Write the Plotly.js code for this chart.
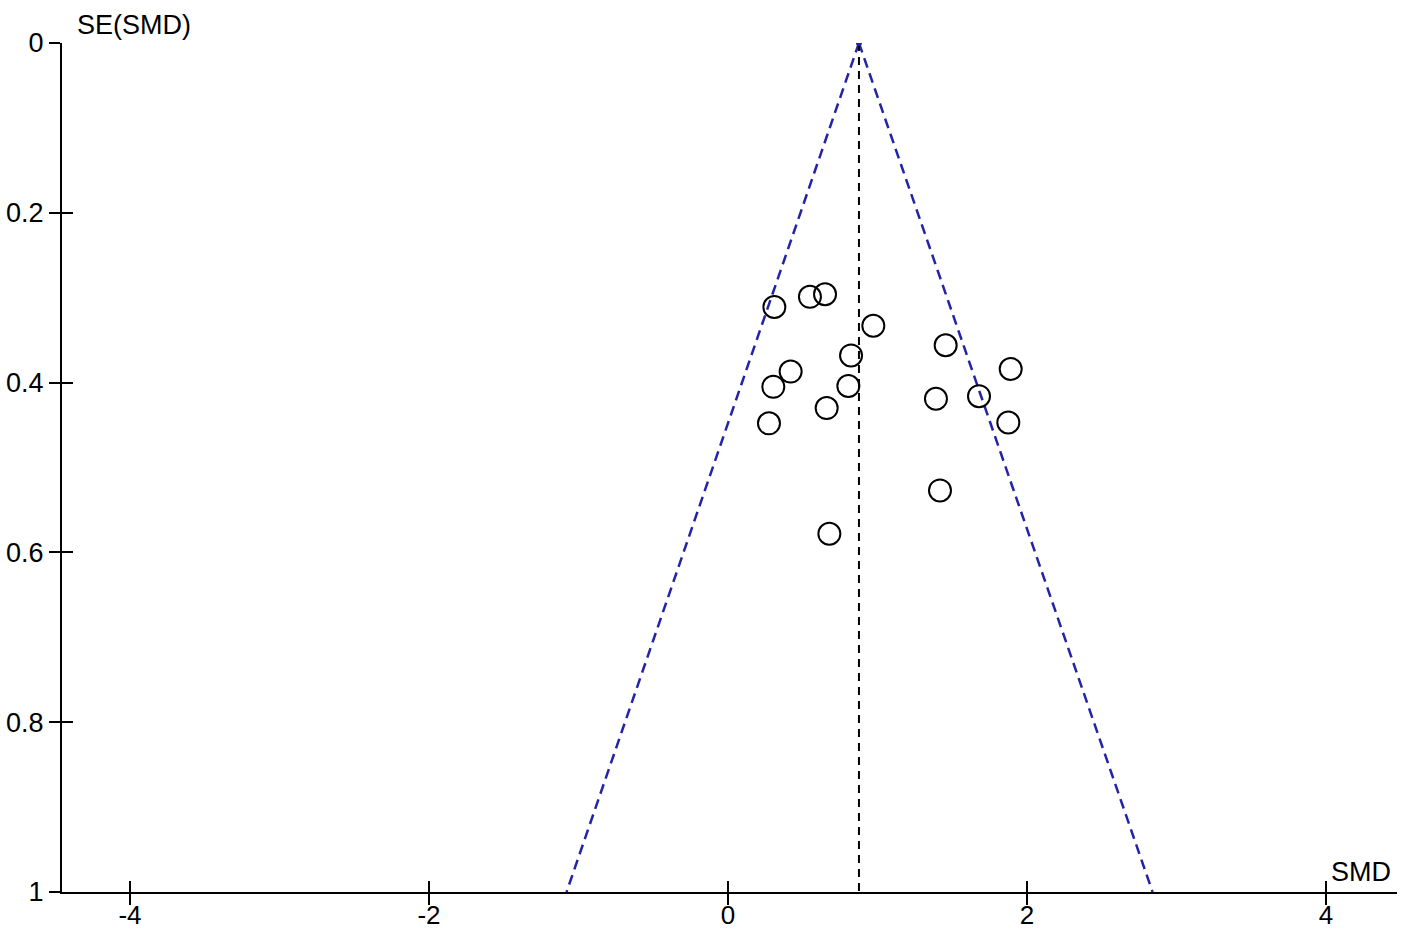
<!DOCTYPE html>
<html>
<head>
<meta charset="utf-8">
<script src="https://cdn.plot.ly/plotly-3.0.1.min.js"></script>
<style>
  html, body { margin: 0; padding: 0; background: #fff; }
  #funnel { width: 1417px; height: 933px; }
</style>
</head>
<body>
<div id="funnel"></div>
<script>
// study estimates
var smd = [0.310, 0.548, 0.649, 0.972, 1.456, 0.823, 1.891, 0.419, 0.303,
           0.805, 1.391, 1.679, 0.660, 0.274, 1.875, 1.418, 0.678];
var seSmd = [0.311, 0.299, 0.296, 0.333, 0.356, 0.368, 0.384, 0.387, 0.405,
             0.404, 0.419, 0.416, 0.430, 0.448, 0.447, 0.527, 0.578];

// pooled estimate and 95% pseudo confidence limits
var pooled = [0.876, 0.876];
var limitSE = [0, 1];
var lowerLimit = [0.876, -1.08];
var upperLimit = [0.876, 2.84];

var xTicks = [-4, -2, 0, 2, 4];
var xTickText = ["-4", "-2", "0", "2", "4"];
var yTicks = [0, 0.2, 0.4, 0.6, 0.8, 1];
var yTickText = ["0", "0.2", "0.4", "0.6", "0.8", "1"];

var xRange = [-4.455, 4.475];
var yRange = [1, 0];
var blue = "#2323a8";
var font = "Liberation Sans, Arial, sans-serif";

var data = [
  {x: lowerLimit, y: limitSE, mode: "lines", hoverinfo: "skip",
   line: {color: blue, width: 2.5, dash: "10px,6px"}},
  {x: upperLimit, y: limitSE, mode: "lines", hoverinfo: "skip",
   line: {color: blue, width: 2.5, dash: "10px,6px"}},
  {x: pooled, y: limitSE, mode: "lines", hoverinfo: "skip",
   line: {color: "#000", width: 2, dash: "8px,6px"}},
  {x: [pooled[0]], y: [0], mode: "markers", hoverinfo: "skip",
   marker: {color: blue, size: 6}},
  {x: smd, y: seSmd, mode: "markers",
   marker: {symbol: "circle-open", size: 22, color: "#000", line: {width: 2, color: "#000"}}},
  // empty trace so the overlay axes (inner tick halves) get drawn
  {x: [], y: [], xaxis: "x2", yaxis: "y2", mode: "markers"}
];

var layout = {
  width: 1417,
  height: 933,
  margin: {l: 62, r: 20, t: 43, b: 41},
  paper_bgcolor: "#fff",
  plot_bgcolor: "#fff",
  showlegend: false,
  font: {family: font, size: 27, color: "#000"},
  xaxis: {
    range: xRange, tickvals: xTicks, ticktext: xTickText, ticks: "outside",
    ticklen: 11, tickwidth: 2, tickcolor: "#000", ticklabelstandoff: -12,
    tickfont: {size: 26},
    showline: true, linecolor: "#000", linewidth: 2,
    showgrid: false, zeroline: false, automargin: false
  },
  yaxis: {
    range: yRange, tickvals: yTicks, ticktext: yTickText, ticks: "outside",
    ticklen: 11, tickwidth: 2, tickcolor: "#000", showline: true,
    linecolor: "#000", linewidth: 2, showgrid: false, zeroline: false,
    automargin: false
  },
  xaxis2: {
    overlaying: "x", range: xRange, tickvals: xTicks, ticks: "inside", ticklen: 11,
    tickwidth: 2, tickcolor: "#000", showticklabels: false, showline: false,
    showgrid: false, zeroline: false
  },
  yaxis2: {
    overlaying: "y", range: yRange, tickvals: yTicks, ticks: "inside", ticklen: 11,
    tickwidth: 2, tickcolor: "#000", showticklabels: false, showline: false,
    showgrid: false, zeroline: false
  },
  annotations: [
    {text: "SE(SMD)", xref: "paper", yref: "paper", x: 0.0095, y: 1.021,
     xanchor: "left", yanchor: "middle", showarrow: false,
     font: {family: font, size: 27, color: "#000"}},
    {text: "SMD", xref: "paper", yref: "paper", x: 0.997, y: 0.0236,
     xanchor: "right", yanchor: "middle", showarrow: false,
     font: {family: font, size: 27, color: "#000"}}
  ]
};

Plotly.newPlot("funnel", data, layout, {staticPlot: true});
</script>
</body>
</html>
